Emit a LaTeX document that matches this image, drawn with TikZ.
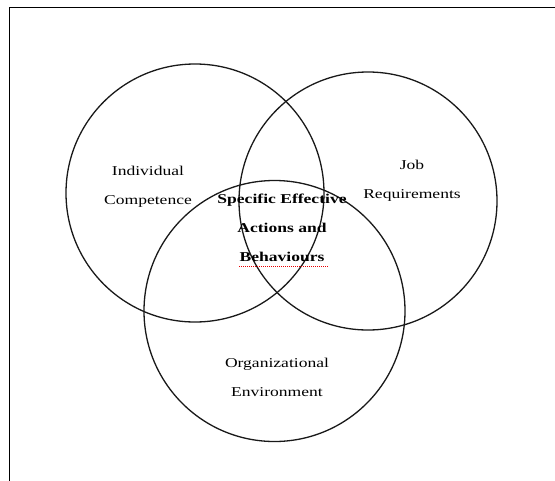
\documentclass[tikz,border=0pt]{standalone}
\usepackage{fontspec}
\newfontfamily\labfont[FakeStretch=1.3]{Liberation Serif}
\definecolor{spellred}{RGB}{230,0,0}
\begin{document}
\begin{tikzpicture}[x=1pt,y=-1pt,
  ring/.style={draw=black!90,line width=1.3pt,circle,inner sep=0pt},
  lab/.style={font=\labfont\fontsize{13.5}{29}\selectfont,align=center,inner sep=0pt,anchor=base},
  frameline/.style={draw=black,line width=1.8pt}]
  \useasboundingbox (0,0) rectangle (555,480);
  % frame edges (top and left)
  \coordinate (ftl) at (9.5,7.5);
  \coordinate (ftr) at (556,7.5);
  \coordinate (fbl) at (9.5,481);
  \draw[frameline] (ftr) -- (ftl) -- (fbl);
  % the three overlapping sets
  \node[ring,minimum size=258pt] (indiv) at (195,193) {};
  \node[ring,minimum size=258pt] (job) at (368,201) {};
  \node[ring,minimum size=261pt] (org) at (274.5,311) {};
  % labels (anchored at the baseline of their last line)
  \node[lab] (indivlab) at (148,204) {Individual\\Competence};
  \node[lab] (joblab) at (412,198) {Job\\Requirements};
  \node[lab] (orglab) at (277,396) {Organizational\\Environment};
  \node[lab,font=\labfont\bfseries\fontsize{13.5}{29}\selectfont] (core) at (282,261.5)
    {Specific Effective\\Actions and\\Behaviours};
  % spell-check underline
  \coordinate (ula) at (239,266);
  \coordinate (ulb) at (329,266);
  \draw[spellred,densely dotted,line width=1pt] (ula) -- (ulb);
\end{tikzpicture}
\end{document}
